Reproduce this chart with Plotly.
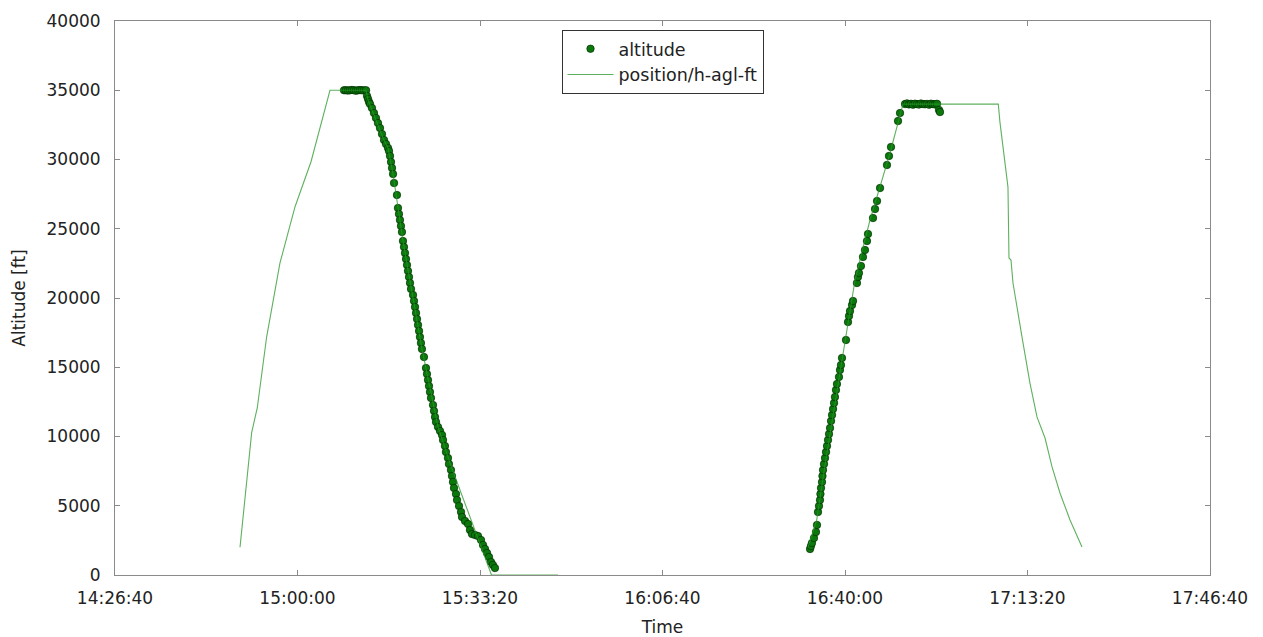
import pandas as pd
import plotly.graph_objects as go

# ---- data (time as seconds of day, altitude in ft) ----
# simulated track: position/h-agl-ft  (None separates the two flights)
line_time_s = [53370, 53381, 53498, 53559, 53662, 53808, 53973, 54148, 54162, 54356,
               54751, 54773, 54937, 54992, 55047, 55156, 55364, 55485, 55540, 55671,
               56126, 56855,
               None,
               59595, 59690, 59781, 59872, 59978, 60110, 60183, 60274, 60384, 60493,
               60581, 60636, 61680, 61699, 61786, 61797, 61819, 61841, 61940, 62027,
               62104, 62192, 62269, 62356, 62466, 62597]
line_alt_ft = [2000, 2700, 10300, 12060, 17200, 22530, 26590, 29840, 30200, 35000,
               35000, 34300, 31550, 30830, 28950, 24115, 16320, 12270, 10690, 8090,
               0, 0,
               None,
               2000, 3970, 7940, 11700, 15880, 21300, 23250, 25630, 28040, 30470,
               32640, 34000, 34000, 32640, 28010, 22890, 22740, 21080, 17180, 13860,
               11410, 9890, 7800, 5920, 3970, 2020]

# recorded altitude samples
alt_time_s = [
    # flight 1 cruise + descent
    54510, 54531, 54553, 54575, 54597, 54619, 54641, 54663, 54685, 54707, 54729, 54751,
    54762, 54773, 54784, 54795, 54816, 54838, 54860, 54882, 54904, 54926, 54948, 54970,
    54992, 55003, 55014, 55025, 55036, 55047, 55058, 55090, 55101, 55112, 55123, 55134,
    55145, 55156, 55167, 55178, 55189, 55200, 55211, 55222, 55233, 55244, 55266, 55277,
    55288, 55299, 55310, 55321, 55332, 55342, 55353, 55364, 55386, 55408, 55419, 55430,
    55441, 55452, 55463, 55485, 55496, 55507, 55518, 55540, 55562, 55584, 55595, 55616,
    55627, 55649, 55660, 55682, 55693, 55704, 55715, 55737, 55748, 55770, 55792, 55803,
    55836, 55869, 55890, 55912, 55945, 55978, 56011, 56033, 56055, 56077, 56099, 56121,
    56142, 56164,
    # flight 2 climb + cruise
    59617, 59627, 59638, 59660, 59682, 59693, 59704, 59715, 59726, 59731, 59737, 59748,
    59753, 59759, 59770, 59781, 59792, 59803, 59814, 59825, 59836, 59847, 59858, 59869,
    59880, 59890, 59901, 59912, 59934, 59945, 59956, 59967, 60011, 60033, 60044, 60055,
    60077, 60088, 60131, 60142, 60153, 60175, 60197, 60219, 60241, 60252, 60307, 60329,
    60351, 60384, 60460, 60482, 60504, 60581, 60603,
    60658, 60680, 60701, 60723, 60745, 60767, 60789, 60811, 60833, 60855, 60877, 60899,
    60921, 60942, 60964, 60986, 61008, 61030, 61041]
alt_ft = [
    35000, 35000, 34980, 35000, 35020, 35000, 34970, 35000, 35010, 35000, 34990, 35000,
    34584, 34367, 34151, 34006, 33717, 33356, 32995, 32634, 32273, 31840, 31407, 31118,
    30829, 30613, 30252, 29819, 29385, 28952, 28302, 27436, 26497, 26064, 25631, 25198,
    24765, 24115, 23682, 23248, 22815, 22382, 21949, 21516, 21082, 20649, 20216, 19783,
    19350, 18916, 18483, 18050, 17617, 17184, 16750, 16317, 15740, 14945, 14512, 14079,
    13646, 13213, 12779, 12274, 11841, 11408, 11047, 10686, 10397, 10108, 9747, 9314,
    8881, 8447, 8014, 7581, 7148, 6715, 6281, 5848, 5415, 4982, 4549, 4188,
    3899, 3682, 3249, 2960, 2888, 2816, 2527, 2166, 1877, 1588, 1300, 939,
    722, 505,
    1877, 2094, 2310, 2671, 3105, 3610, 4549, 4982, 5415, 5848, 6281, 6715,
    7148, 7581, 8014, 8447, 8881, 9314, 9747, 10180, 10613, 11119, 11552, 11985,
    12418, 12852, 13357, 13790, 14296, 14801, 15162, 15667, 16967, 18267, 18700, 19061,
    19494, 19783, 21082, 21516, 21804, 22310, 22960, 23465, 24115, 24620, 25775, 26425,
    27003, 27941, 29602, 30252, 30902, 32779, 33356,
    34006, 34050, 33980, 34020, 33960, 34030, 34000, 33970, 34040, 34000, 33990, 34010,
    33960, 34030, 34000, 33980, 34020, 33573, 33429]

x_range = ["14:26:40", "17:46:40"]
y_range = [0, 40000]

DAY = pd.Timestamp("2000-01-01")


def to_dt(secs):
    return [None if s is None else DAY + pd.Timedelta(seconds=s) for s in secs]


FONT = "DejaVu Sans"
GRAY = "#8a8a8a"
FS = 17

fig = go.Figure()
fig.add_trace(go.Scatter(
    x=to_dt(alt_time_s), y=alt_ft, mode="markers", name="altitude",
    marker=dict(size=7.5, color="#0b780b", line=dict(color="rgba(0,40,0,0.8)", width=0.8)),
))
fig.add_trace(go.Scatter(
    x=to_dt(line_time_s), y=line_alt_ft, mode="lines", name="position/h-agl-ft",
    line=dict(color="rgba(40,150,40,0.75)", width=1.1), connectgaps=False,
))

# page body has an 8px margin, so the figure is sized to fit inside it
fig.update_layout(
    width=1255, height=629,
    margin=dict(l=107, r=53, t=13, b=62, pad=0, autoexpand=False),
    paper_bgcolor="white", plot_bgcolor="white",
    font=dict(family=FONT, size=FS, color="#222222"),
    showlegend=True,
    legend=dict(x=0.5, xanchor="center", y=0.984, yanchor="top",
                bgcolor="white", bordercolor="#333333", borderwidth=1,
                font=dict(family=FONT, size=17.5, color="#222222"),
                itemwidth=46, tracegroupgap=2),
)
fig.update_xaxes(
    type="date", automargin=False,
    range=[DAY + pd.Timedelta(x_range[0]), DAY + pd.Timedelta(x_range[1])],
    tick0=DAY + pd.Timedelta(x_range[0]), dtick=2000 * 1000,
    tickformat="%H:%M:%S",
    showgrid=False, zeroline=False,
    showline=True, linecolor=GRAY, linewidth=1, mirror="ticks",
    ticks="inside", ticklen=5, tickcolor=GRAY, tickwidth=1,
    ticklabelstandoff=8,
    title=dict(text="Time", standoff=18, font=dict(family=FONT, size=FS)),
    tickfont=dict(family=FONT, size=FS),
)
fig.update_yaxes(
    automargin=False,
    range=y_range, dtick=5000, tick0=0,
    tickformat="d",
    showgrid=False, zeroline=False,
    showline=True, linecolor=GRAY, linewidth=1, mirror="ticks",
    ticks="inside", ticklen=5, tickcolor=GRAY, tickwidth=1,
    ticklabelstandoff=10,
    title=dict(text="Altitude [ft]", standoff=16, font=dict(family=FONT, size=FS)),
    tickfont=dict(family=FONT, size=FS),
)

fig.write_html("out.html")
